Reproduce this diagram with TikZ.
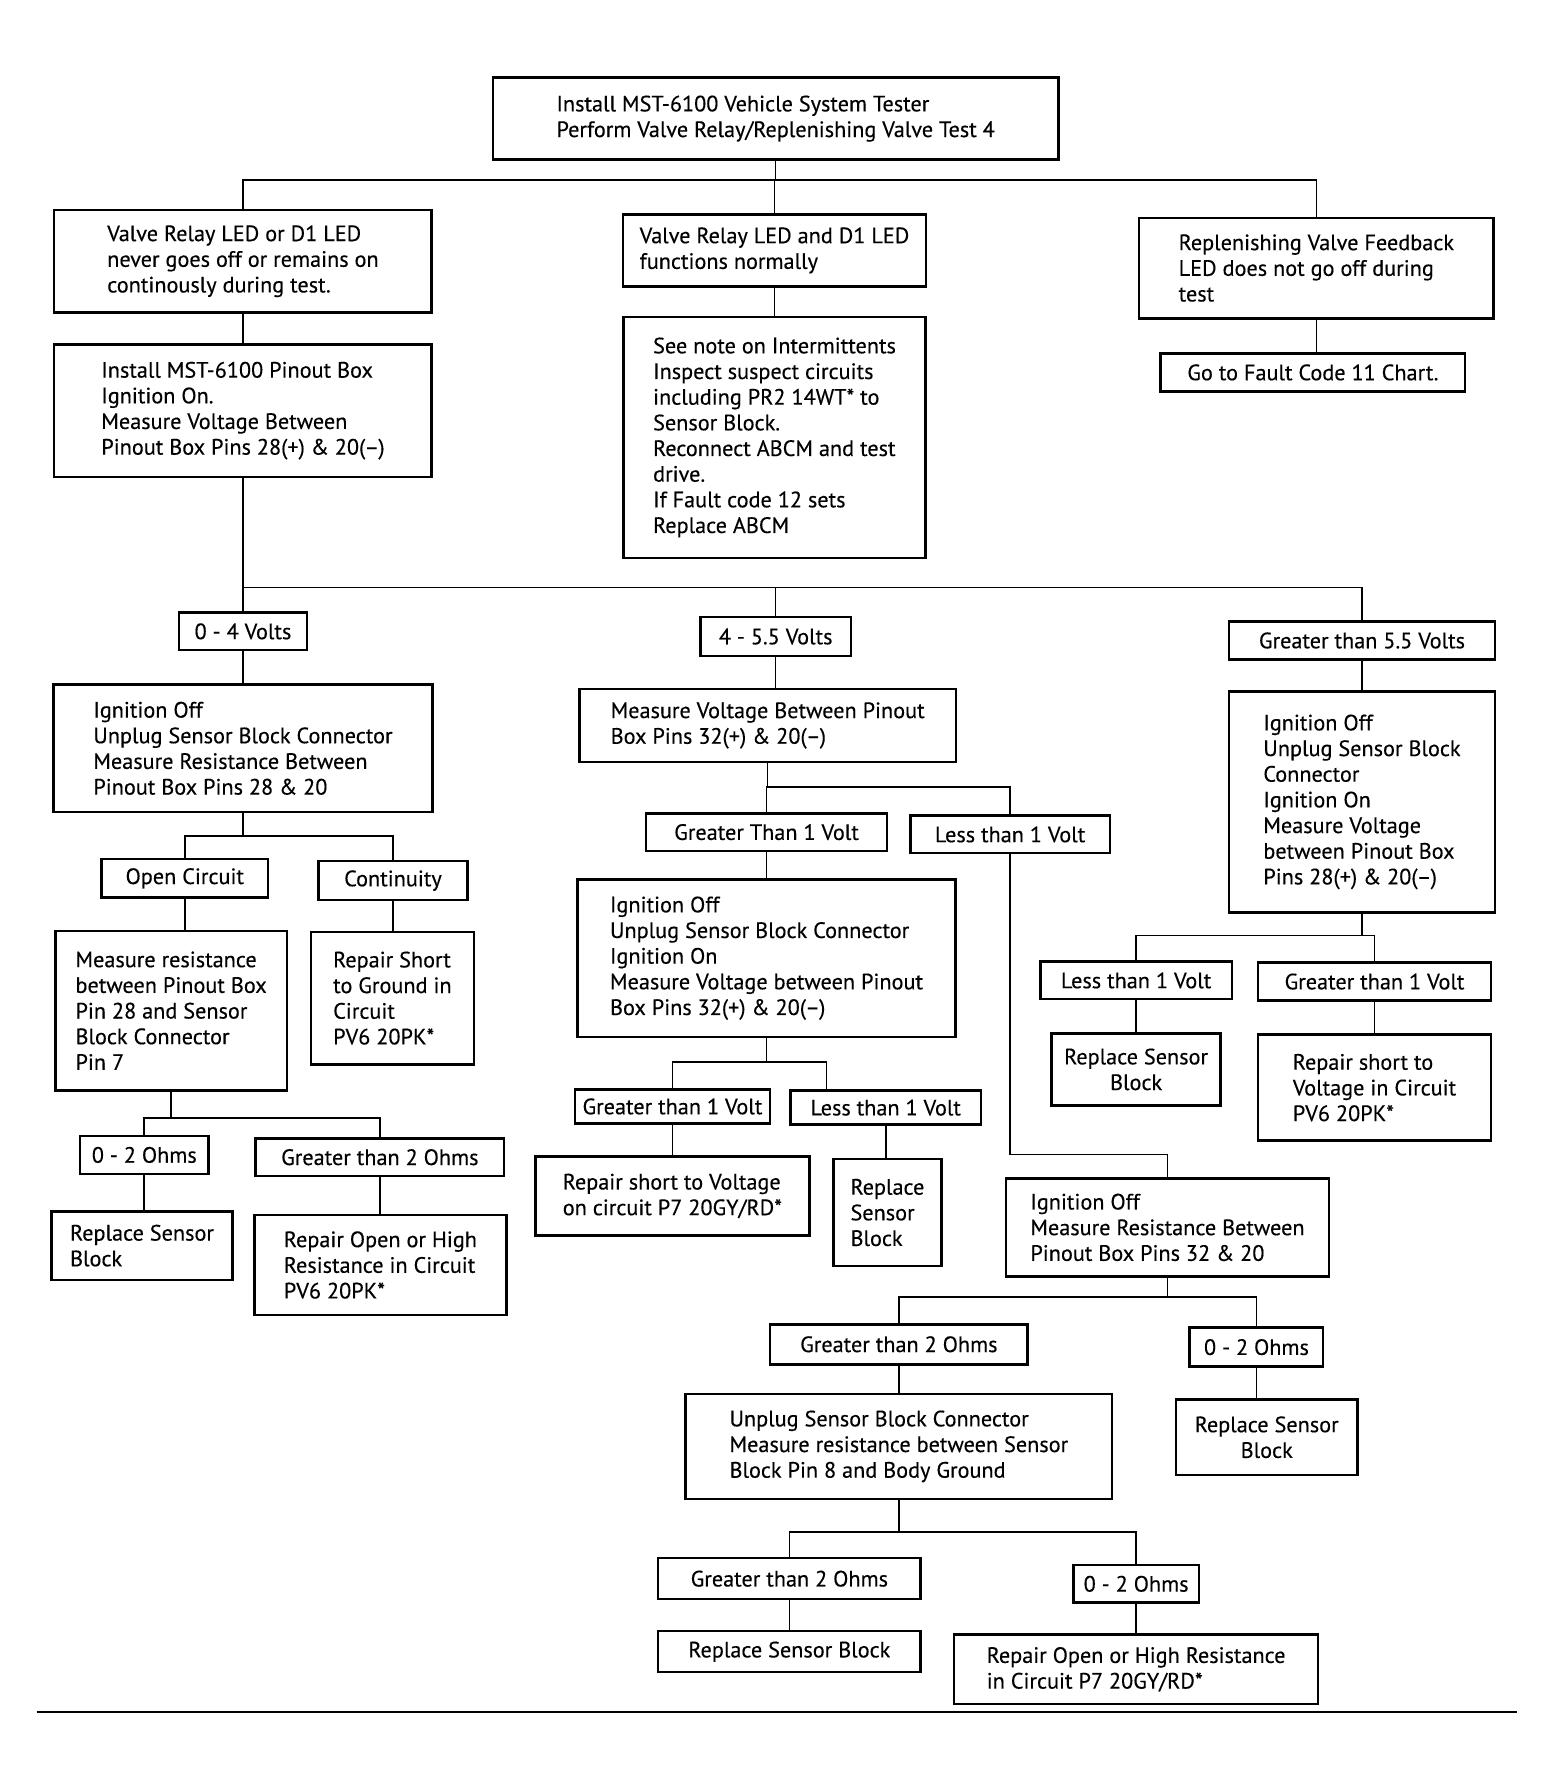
\documentclass[tikz,border=0pt]{standalone}
\usepackage{fontspec}
\setmainfont{PT Sans}[FakeBold=0.3]
\tikzset{every path/.style={line width=1.4pt},
  box/.style={draw, line width=2.2pt, align=left, inner sep=0pt, font=\fontsize{19.5}{22.5}\selectfont},
  wh/.style 2 args={minimum width=#1pt, minimum height=#2pt}}

\begin{document}
\begin{tikzpicture}[x=1pt,y=-1pt]
  \useasboundingbox (0,0) rectangle (1360,1564);
  \coordinate (busTop) at (0,158);
  \coordinate (busV) at (0,515);
  \coordinate (busD) at (0,733);
  \coordinate (busE) at (0,980);
  \coordinate (busG) at (0,690);
  \coordinate (busH) at (0,931);
  \coordinate (jogJ) at (0,1012);
  \coordinate (busJ) at (0,1137);
  \coordinate (busK) at (0,1343);
  \coordinate (busL) at (0,820);

  \node[box, wh={496}{72}] (top) at (680,104) {Install MST-6100 Vehicle System Tester\\Perform Valve Relay/Replenishing Valve Test 4};
  \node[box, wh={331}{90}] (ledA) at (213,229) {Valve Relay LED or D1 LED\\never goes off or remains on\\continously during test.};
  \node[box, wh={266}{63}] (ledB) at (679,219.5) {Valve Relay LED and D1 LED\\functions normally};
  \node[box, wh={311}{88}] (ledC) at (1154,235) {Replenishing Valve Feedback\\LED does not go off during\\test};
  \node[box, wh={267}{33}] (fault11) at (1151,326.5) {Go to Fault Code 11 Chart.};
  \node[box, wh={265}{211}] (intermit) at (679,383.5) {See note on Intermittents\\Inspect suspect circuits\\including PR2 14WT* to\\Sensor Block.\\Reconnect ABCM and test\\drive.\\If Fault code 12 sets\\Replace ABCM};
  \node[box, wh={331}{116}] (pinout) at (213,360) {Install MST-6100 Pinout Box\\Ignition On.\\Measure Voltage Between\\Pinout Box Pins 28(+) \& 20(--)};

  \node[box, wh={112}{33}] (v04) at (213,553.5) {0 - 4 Volts};
  \node[box, wh={132}{34}] (v455) at (680,558) {4 - 5.5 Volts};
  \node[box, wh={233}{33}] (v55) at (1194,561.5) {Greater than 5.5 Volts};

  \node[box, wh={332}{112}] (resD) at (213,656) {Ignition Off\\Unplug Sensor Block Connector\\Measure Resistance Between\\Pinout Box Pins 28 \& 20};
  \node[box, wh={146}{34}] (open) at (162,770) {Open Circuit};
  \node[box, wh={131}{34}] (cont) at (344.5,772) {Continuity};
  \node[box, wh={203}{140}] (resE) at (150,886) {Measure resistance\\between Pinout Box\\Pin 28 and Sensor\\Block Connector\\Pin 7};
  \node[box, wh={143}{116}] (shortF) at (344,875) {Repair Short\\to Ground in\\Circuit\\PV6 20PK*};
  \node[box, wh={113}{33}] (ohmA) at (126.5,1012.5) {0 - 2 Ohms};
  \node[box, wh={218}{33}] (gtohmA) at (333,1014.5) {Greater than 2 Ohms};
  \node[box, wh={159}{60}] (replA) at (124.5,1092) {Replace Sensor\\Block};
  \node[box, wh={221}{88}] (openA) at (333.5,1109) {Repair Open or High\\Resistance in Circuit\\PV6 20PK*};

  \node[box, wh={330}{64}] (measG) at (673,636) {Measure Voltage Between Pinout\\Box Pins 32(+) \& 20(--)};
  \node[box, wh={211}{33}] (gtG) at (672,729.5) {Greater Than 1 Volt};
  \node[box, wh={175}{33}] (ltG) at (885.5,731.5) {Less than 1 Volt};
  \node[box, wh={331}{138}] (measH) at (672,840) {Ignition Off\\Unplug Sensor Block Connector\\Ignition On\\Measure Voltage between Pinout\\Box Pins 32(+) \& 20(--)};
  \node[box, wh={171}{30}] (gtH) at (589.5,970) {Greater than 1 Volt};
  \node[box, wh={167}{30}] (ltH) at (776.5,971) {Less than 1 Volt};
  \node[box, wh={240}{69}] (shortH) at (589.5,1048.5) {Repair short to Voltage\\on circuit P7 20GY/RD*};
  \node[box, wh={95}{94}] (replH) at (778,1063) {Replace\\Sensor\\Block};

  \node[box, wh={283}{86}] (ignJ) at (1023.5,1076) {Ignition Off\\Measure Resistance Between\\Pinout Box Pins 32 \& 20};
  \node[box, wh={226}{35}] (gtJ) at (788,1178.5) {Greater than 2 Ohms};
  \node[box, wh={117}{34}] (ohmJ) at (1101.5,1181) {0 - 2 Ohms};
  \node[box, wh={159}{66}, align=center] (replJ) at (1110.5,1260) {Replace Sensor\\Block};
  \node[box, wh={374}{92}] (unplugK) at (788,1268) {Unplug Sensor Block Connector\\Measure resistance between Sensor\\Block Pin 8 and Body Ground};
  \node[box, wh={230}{36}] (gtK) at (692,1384) {Greater than 2 Ohms};
  \node[box, wh={110}{33}] (ohmK) at (996,1388.5) {0 - 2 Ohms};
  \node[box, wh={230}{36}] (replK) at (692,1448) {Replace Sensor Block};
  \node[box, wh={319}{61}] (openK) at (996,1463.5) {Repair Open or High Resistance\\in Circuit P7 20GY/RD*};

  \node[box, wh={233}{194}] (ignL) at (1194,703) {Ignition Off\\Unplug Sensor Block\\Connector\\Ignition On\\Measure Voltage\\between Pinout Box\\Pins 28(+) \& 20(--)};
  \node[box, wh={168}{33}] (ltL) at (996,859.5) {Less than 1 Volt};
  \node[box, wh={204}{33}] (gtL) at (1205,860.5) {Greater than 1 Volt};
  \node[box, wh={148}{63}, align=center] (replL) at (996,937.5) {Replace Sensor\\Block};
  \node[box, wh={204}{93}] (shortL) at (1205,953.5) {Repair short to\\Voltage in Circuit\\PV6 20PK*};

  \draw (top.south) -- (top.south |- busTop);
  \draw (ledA.north) -- (ledA.north |- busTop) -| (ledC.north);
  \draw (ledB.north) -- (ledB.north |- busTop);
  \draw (ledC.south) -- (ledC.south |- fault11.north);
  \draw (ledB.south) -- (ledB.south |- intermit.north);
  \draw (ledA.south) -- (ledA.south |- pinout.north);

  \draw (pinout.south) -- (pinout.south |- v04.north);
  \draw (v04.north |- busV) -| (v55.north);
  \draw (v455.north) -- (v455.north |- busV);

  \draw (v04.south) -- (v04.south |- resD.north);
  \draw (resD.south) -- (resD.south |- busD);
  \draw (open.north) -- (open.north |- busD) -| (cont.north);
  \draw (open.south) -- (open.south |- resE.north);
  \draw (cont.south) -- (cont.south |- shortF.north);
  \draw (resE.south) -- (resE.south |- busE);
  \draw (ohmA.north) -- (ohmA.north |- busE) -| (gtohmA.north);
  \draw (ohmA.south) -- (ohmA.south |- replA.north);
  \draw (gtohmA.south) -- (gtohmA.south |- openA.north);

  \draw (v455.south) -- (v455.south |- measG.north);
  \draw (measG.south) -- (measG.south |- busG);
  \draw (gtG.north) -- (gtG.north |- busG) -| (ltG.north);
  \draw (gtG.south) -- (gtG.south |- measH.north);
  \draw (measH.south) -- (measH.south |- busH);
  \draw (gtH.north) -- (gtH.north |- busH) -| ([xshift=-52pt]ltH.north);
  \draw (gtH.south) -- (gtH.south |- shortH.north);
  \draw (ltH.south) -- (ltH.south |- replH.north);
  \draw (ltG.south) -- (ltG.south |- jogJ) -| (ignJ.north);
  \draw (ignJ.south) -- (ignJ.south |- busJ);
  \draw (gtJ.north) -- (gtJ.north |- busJ) -| (ohmJ.north);
  \draw (ohmJ.south) -- (ohmJ.south |- replJ.north);
  \draw (gtJ.south) -- (gtJ.south |- unplugK.north);
  \draw (unplugK.south) -- (unplugK.south |- busK);
  \draw (gtK.north) -- (gtK.north |- busK) -| (ohmK.north);
  \draw (gtK.south) -- (gtK.south |- replK.north);
  \draw (ohmK.south) -- (ohmK.south |- openK.north);

  \draw (v55.south) -- (v55.south |- ignL.north);
  \draw (ignL.south) -- (ignL.south |- busL);
  \draw (ltL.north) -- (ltL.north |- busL) -| (gtL.north);
  \draw (ltL.south) -- (ltL.south |- replL.north);
  \draw (gtL.south) -- (gtL.south |- shortL.north);

  \draw (32,1501) -- (1330,1501);
\end{tikzpicture}
\end{document}
